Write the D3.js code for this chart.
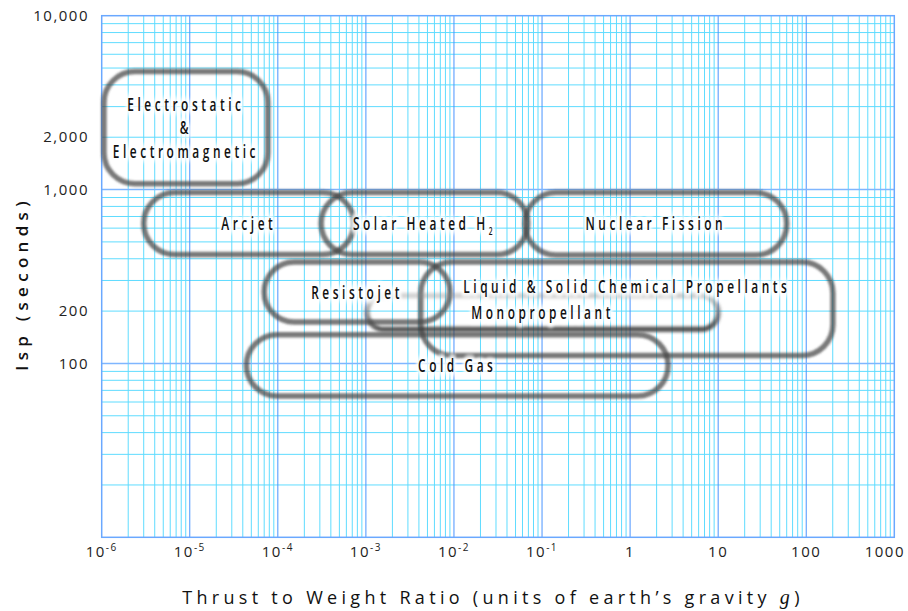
<!DOCTYPE html>
<html>
<head>
<meta charset="utf-8">
<script src="https://cdn.jsdelivr.net/npm/d3@7"></script>
<style>
  html, body { margin: 0; padding: 0; background: #fff; }
  svg { display: block; }
</style>
</head>
<body>
<svg id="chart" width="908" height="611"></svg>
<script>
// ---------- data ----------
const xTickValues = [1e-6, 1e-5, 1e-4, 1e-3, 1e-2, 1e-1, 1, 10, 100, 1000];
const xTickBase = ["10", "10", "10", "10", "10", "10", "1", "10", "100", "1000"];
const xTickExp = ["-6", "-5", "-4", "-3", "-2", "-1", "", "", "", ""];
const yTickValues = [10000, 2000, 1000, 200, 100];
const yTickLabels = ["10,000", "2,000", "1,000", "200", "100"];

const boxNames = ["Electrostatic & Electromagnetic", "Arcjet", "Solar Heated H2", "Nuclear Fission",
  "Resistojet", "Liquid & Solid Chemical Propellants", "Monopropellant", "Cold Gas"];
const boxTwrMin = [1.06e-6, 3.0e-6, 3.1e-4, 0.064, 7.0e-5, 4.2e-3, 1.03e-3, 4.4e-5];
const boxTwrMax = [7.7e-5, 7.3e-4, 0.069, 60, 9.0e-3, 201, 10, 2.7];
const boxIspMin = [1080, 423, 423, 420, 173, 111, 157, 65];
const boxIspMax = [4770, 961, 961, 961, 383, 383, 246, 146];
const labelLines = [["Electrostatic", "&", "Electromagnetic"], ["Arcjet"], ["Solar Heated H|2"], ["Nuclear Fission"],
  ["Resistojet"], ["Liquid & Solid Chemical Propellants"], ["Monopropellant"], ["Cold Gas"]];
const labelIsp = [null, null, null, null, null, 277, null, null];

const xTitle = "Thrust to Weight Ratio (units of earth\u2019s gravity ";
const xTitleItalic = "g";
const yTitle = "Isp (seconds)";

// ---------- layout ----------
const svg = d3.select("#chart");
const W = 908, H = 611;
const plot = { left: 101.7, top: 15.7, right: 894.3, bottom: 537.3 };

const x = d3.scaleLog().domain([1e-6, 1000]).range([plot.left, plot.right]);
const y = d3.scaleLog().domain([10, 10000]).range([plot.bottom, plot.top]);

const defs = svg.append("defs");
defs.append("filter").attr("id", "soft").attr("x", "-5%").attr("y", "-20%").attr("width", "110%").attr("height", "140%")
  .append("feGaussianBlur").attr("stdDeviation", 1.1);
defs.append("filter").attr("id", "softer").attr("x", "-5%").attr("y", "-30%").attr("width", "110%").attr("height", "160%")
  .append("feGaussianBlur").attr("stdDeviation", 1.6);
defs.append("filter").attr("id", "halo").attr("x", "-10%").attr("y", "-50%").attr("width", "120%").attr("height", "200%")
  .append("feGaussianBlur").attr("stdDeviation", 2);
const grad = defs.append("linearGradient").attr("id", "monoGrad")
  .attr("x1", 0).attr("y1", 0).attr("x2", 0.08).attr("y2", 1);
grad.append("stop").attr("offset", "0%").attr("stop-color", "#888").attr("stop-opacity", 0.35);
grad.append("stop").attr("offset", "45%").attr("stop-color", "#666").attr("stop-opacity", 0.6);
grad.append("stop").attr("offset", "100%").attr("stop-color", "#3a3a3a").attr("stop-opacity", 0.85);

// ---------- grid ----------
const grid = svg.append("g");
const minorX = [], majorX = [];
for (let e = -6; e < 3; e++) {
  for (let m = 2; m <= 9; m++) minorX.push(m * Math.pow(10, e));
}
for (let e = -5; e < 3; e++) majorX.push(Math.pow(10, e));
const minorY = [], majorY = [];
for (let e = 1; e < 4; e++) {
  for (let m = 2; m <= 9; m++) minorY.push(m * Math.pow(10, e));
}
majorY.push(100, 1000);

grid.selectAll("line.mx").data(minorX).join("line")
  .attr("x1", d => x(d)).attr("x2", d => x(d)).attr("y1", plot.top).attr("y2", plot.bottom)
  .attr("stroke", "#5fdcff").attr("stroke-width", 1);
grid.selectAll("line.my").data(minorY).join("line")
  .attr("y1", d => y(d)).attr("y2", d => y(d)).attr("x1", plot.left).attr("x2", plot.right)
  .attr("stroke", "#5fdcff").attr("stroke-width", 1);
grid.selectAll("line.Mx").data(majorX).join("line")
  .attr("x1", d => x(d)).attr("x2", d => x(d)).attr("y1", plot.top).attr("y2", plot.bottom)
  .attr("stroke", "#4a94ff").attr("stroke-width", 1);
grid.selectAll("line.My").data(majorY).join("line")
  .attr("y1", d => y(d)).attr("y2", d => y(d)).attr("x1", plot.left).attr("x2", plot.right)
  .attr("stroke", "#7fb6ff").attr("stroke-width", 1.5);
grid.append("rect").attr("x", plot.left).attr("y", plot.top)
  .attr("width", plot.right - plot.left).attr("height", plot.bottom - plot.top)
  .attr("fill", "none").attr("stroke", "#6aa8ff").attr("stroke-width", 1.5);

// ---------- boxes ----------
const boxes = boxNames.map((n, i) => ({
  name: n, x0: x(boxTwrMin[i]), x1: x(boxTwrMax[i]), y0: y(boxIspMax[i]), y1: y(boxIspMin[i]), i
}));
svg.append("g").selectAll("rect").data(boxes).join("rect")
  .attr("x", d => d.x0).attr("y", d => d.y0)
  .attr("width", d => d.x1 - d.x0).attr("height", d => d.y1 - d.y0)
  .attr("rx", d => Math.min((d.y1 - d.y0) / 2, 31)).attr("ry", d => Math.min((d.y1 - d.y0) / 2, 31))
  .attr("fill", "none")
  .attr("stroke", d => d.name === "Monopropellant" ? "url(#monoGrad)" : "#454545")
  .attr("stroke-opacity", d => d.name === "Monopropellant" ? 1 : 0.72)
  .attr("stroke-width", 5.5)
  .attr("filter", d => d.name === "Monopropellant" ? "url(#softer)" : "url(#soft)");

// ---------- box labels ----------
const labelFont = "'Open Sans', 'DejaVu Sans', sans-serif";
const labelScale = 0.66;
const labels = svg.append("g");
boxes.forEach((b, i) => {
  const lines = labelLines[i];
  const cx = (b.x0 + b.x1) / 2;
  const cy = labelIsp[i] != null ? y(labelIsp[i]) : (b.y0 + b.y1) / 2;
  const lh = 23.5;
  lines.forEach((ln, k) => {
    const ty = cy + (k - (lines.length - 1) / 2) * lh;
    const parts = ln.split("|");
    const g = labels.append("g").attr("transform", `translate(${cx},${ty}) scale(${labelScale},1)`);
    [true, false].forEach(isHalo => {
      const t = g.append("text")
        .attr("x", 0).attr("y", 0).attr("dy", "0.36em")
        .attr("text-anchor", "middle")
        .attr("font-family", labelFont).attr("font-size", 18).attr("font-weight", 600)
        .attr("letter-spacing", "5.4px")
        .attr("fill", "#111");
      if (isHalo) {
        t.attr("stroke", "#fff").attr("stroke-width", 8).attr("stroke-linejoin", "round")
          .attr("fill", "#fff").attr("opacity", 0.85).attr("filter", "url(#halo)");
      }
      t.append("tspan").text(parts[0]);
      if (parts[1]) {
        t.append("tspan").attr("font-size", 10).attr("dy", "5").text(parts[1]);
      }
    });
  });
});

// ---------- axes text ----------
const tickFont = "'Open Sans', 'DejaVu Sans', sans-serif";
const xt = svg.append("g");
xTickValues.forEach((v, i) => {
  const t = xt.append("text")
    .attr("y", 557)
    .attr("text-anchor", "middle")
    .attr("font-family", tickFont).attr("font-size", 15)
    .attr("letter-spacing", "1.5px").attr("fill", "#222");
  t.append("tspan").text(xTickBase[i]);
  if (xTickExp[i]) t.append("tspan").attr("font-size", 10).attr("dy", -6).text(xTickExp[i]);
  const w = t.node().getComputedTextLength();
  const cx = Math.min(x(v), W - 3 - w / 2);
  t.attr("x", cx);
});

svg.append("g").selectAll("text").data(yTickValues).join("text")
  .attr("x", 89).attr("y", d => y(d)).attr("dy", "0.35em")
  .attr("text-anchor", "end")
  .attr("font-family", tickFont).attr("font-size", 15)
  .attr("letter-spacing", "1.5px").attr("fill", "#222")
  .text((d, i) => yTickLabels[i]);

const xt2 = svg.append("text")
  .attr("x", 493).attr("y", 604)
  .attr("text-anchor", "middle")
  .attr("font-family", tickFont).attr("font-size", 18).attr("font-weight", 500)
  .attr("letter-spacing", "4.3px").attr("fill", "#111");
xt2.append("tspan").text(xTitle);
xt2.append("tspan").attr("font-family", "'Liberation Serif', 'DejaVu Serif', serif").attr("font-style", "italic")
  .attr("font-size", 20).text(xTitleItalic);
xt2.append("tspan").text(")");

svg.append("text")
  .attr("transform", "translate(28, 283.5) rotate(-90)")
  .attr("text-anchor", "middle")
  .attr("font-family", tickFont).attr("font-size", 17).attr("font-weight", 600)
  .attr("letter-spacing", "5.3px").attr("fill", "#111")
  .text(yTitle);
</script>
</body>
</html>
